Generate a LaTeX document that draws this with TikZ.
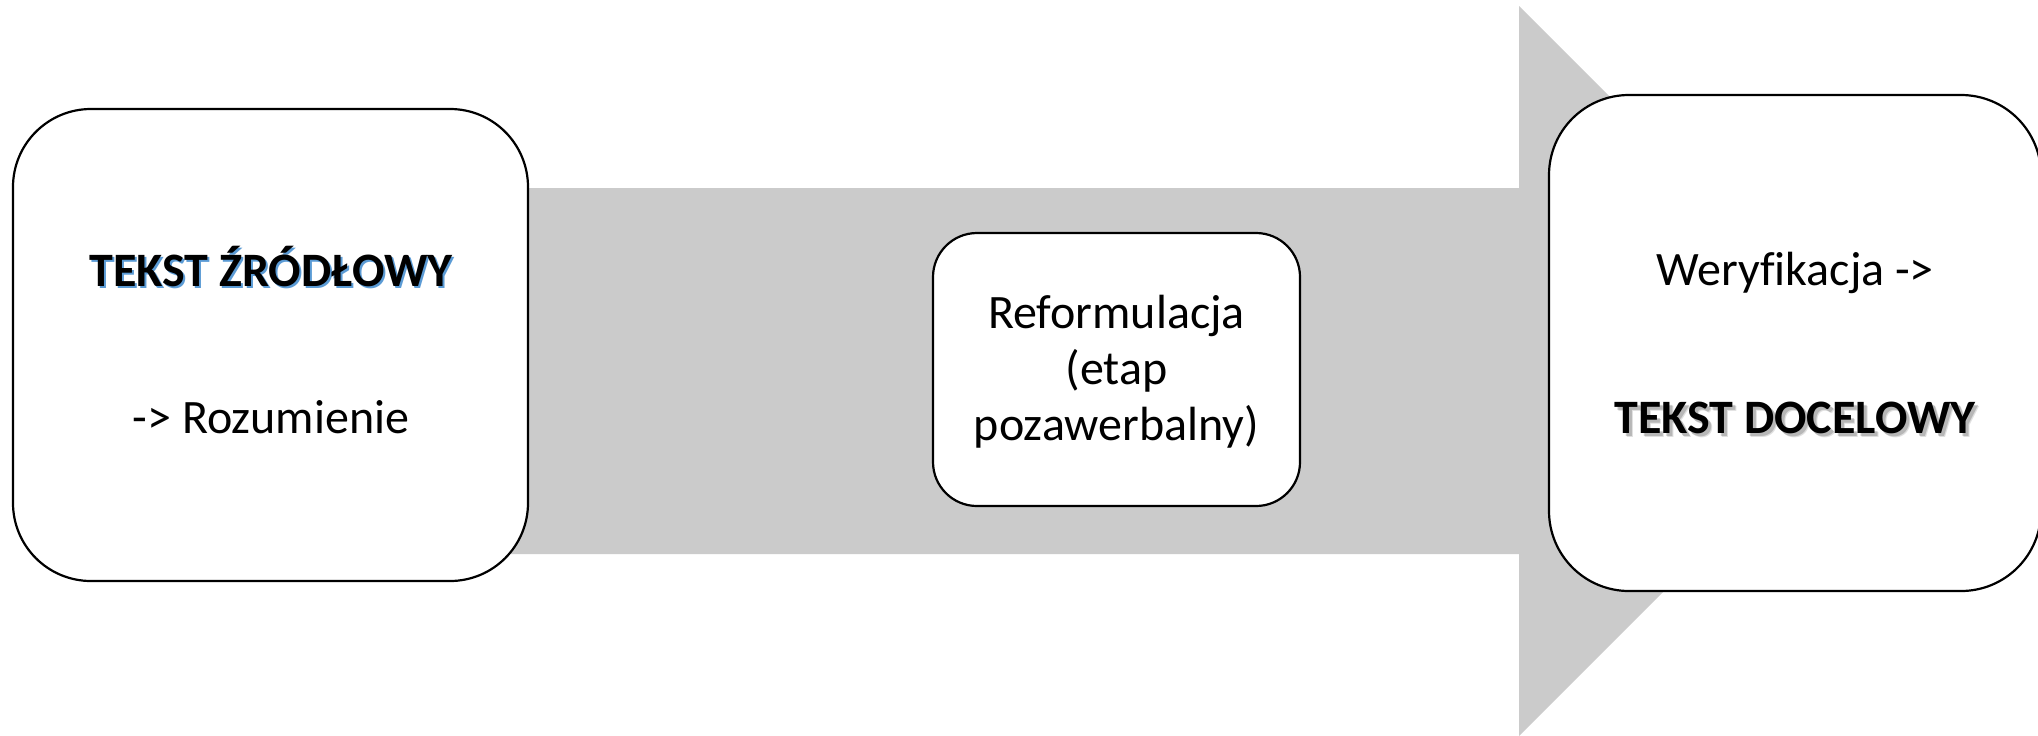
\documentclass[tikz,border=0pt]{standalone}
\usepackage{fontspec}
\setmainfont{Carlito}[Ligatures=NoCommon]
\definecolor{arrowgray}{RGB}{203,203,203}
\definecolor{shadowblue}{RGB}{91,155,213}
\begin{document}
\begin{tikzpicture}[x=0.5pt,y=-0.5pt,
  card/.style={draw=black, line width=1.1pt, fill=white, inner sep=0pt},
  txt/.style={font=\fontsize{24}{28}\selectfont, inner sep=0pt, align=center, anchor=base},
  btxt/.style={txt, font=\fontsize{24}{28}\selectfont\bfseries}]
\useasboundingbox (0,0) rectangle (2038,735);
% big gray arrow
\fill[arrowgray] (400,188) -- (1519,188) -- (1519,6) -- (1884,371) -- (1519,736) -- (1519,554) -- (400,554) -- cycle;
% boxes
\node[card, rounded corners=39pt, minimum width=257.5pt, minimum height=236pt] (src) at (270.5,345) {};
\node[card, rounded corners=22pt, minimum width=183.5pt, minimum height=136.5pt] (mid) at (1116.5,369.5) {};
\node[card, rounded corners=40pt, minimum width=246pt, minimum height=248pt] (dst) at (1795,343) {};
% left texts
\node[btxt, text=shadowblue] at (273,288) {TEKST ŹRÓDŁOWY};
\node[btxt] (srctitle) at (271,286) {TEKST ŹRÓDŁOWY};
\node[txt] (srcstep) at (271,433) {-> Rozumienie};
% middle text
\node[txt] (midtext) at (1116.5,440) {Reformulacja\\(etap\\pozawerbalny)};
% right texts
\node[txt] (dststep) at (1795,285) {Weryfikacja ->};
\node[btxt, text=black, opacity=0.18] at (1798,436) {TEKST DOCELOWY};
\node[btxt, text=black, opacity=0.12] at (1799,437) {TEKST DOCELOWY};
\node[btxt] (dsttitle) at (1795,433) {TEKST DOCELOWY};
\end{tikzpicture}
\end{document}
